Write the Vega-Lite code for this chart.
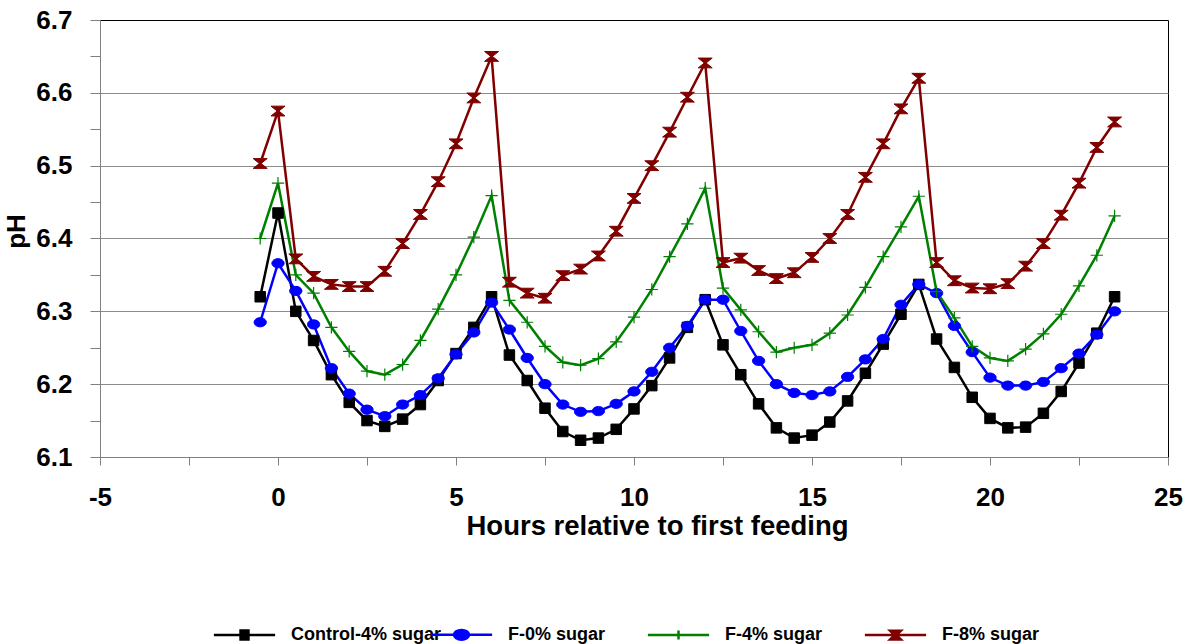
{
  "$schema": "https://vega.github.io/schema/vega-lite/v6.json",
  "width": 1068,
  "height": 437,
  "autosize": {"type": "none"},
  "padding": {"left": 100, "top": 20, "right": 21, "bottom": 187},
  "background": "#ffffff",
  "config": {
    "view": {"stroke": "#000000", "strokeWidth": 1},
    "font": "Liberation Sans"
  },
  "data": {"values": [
    {"hour": -0.5, "series": "Control-4% sugar", "pH": 6.32},
    {"hour": 0, "series": "Control-4% sugar", "pH": 6.435},
    {"hour": 0.5, "series": "Control-4% sugar", "pH": 6.3},
    {"hour": 1, "series": "Control-4% sugar", "pH": 6.26},
    {"hour": 1.5, "series": "Control-4% sugar", "pH": 6.213},
    {"hour": 2, "series": "Control-4% sugar", "pH": 6.175},
    {"hour": 2.5, "series": "Control-4% sugar", "pH": 6.15},
    {"hour": 3, "series": "Control-4% sugar", "pH": 6.142},
    {"hour": 3.5, "series": "Control-4% sugar", "pH": 6.152},
    {"hour": 4, "series": "Control-4% sugar", "pH": 6.172},
    {"hour": 4.5, "series": "Control-4% sugar", "pH": 6.205},
    {"hour": 5, "series": "Control-4% sugar", "pH": 6.242},
    {"hour": 5.5, "series": "Control-4% sugar", "pH": 6.278},
    {"hour": 6, "series": "Control-4% sugar", "pH": 6.32},
    {"hour": 6.5, "series": "Control-4% sugar", "pH": 6.24},
    {"hour": 7, "series": "Control-4% sugar", "pH": 6.205},
    {"hour": 7.5, "series": "Control-4% sugar", "pH": 6.167},
    {"hour": 8, "series": "Control-4% sugar", "pH": 6.135},
    {"hour": 8.5, "series": "Control-4% sugar", "pH": 6.123},
    {"hour": 9, "series": "Control-4% sugar", "pH": 6.126},
    {"hour": 9.5, "series": "Control-4% sugar", "pH": 6.138},
    {"hour": 10, "series": "Control-4% sugar", "pH": 6.166},
    {"hour": 10.5, "series": "Control-4% sugar", "pH": 6.198},
    {"hour": 11, "series": "Control-4% sugar", "pH": 6.236},
    {"hour": 11.5, "series": "Control-4% sugar", "pH": 6.278},
    {"hour": 12, "series": "Control-4% sugar", "pH": 6.316},
    {"hour": 12.5, "series": "Control-4% sugar", "pH": 6.254},
    {"hour": 13, "series": "Control-4% sugar", "pH": 6.213},
    {"hour": 13.5, "series": "Control-4% sugar", "pH": 6.173},
    {"hour": 14, "series": "Control-4% sugar", "pH": 6.14},
    {"hour": 14.5, "series": "Control-4% sugar", "pH": 6.126},
    {"hour": 15, "series": "Control-4% sugar", "pH": 6.13},
    {"hour": 15.5, "series": "Control-4% sugar", "pH": 6.148},
    {"hour": 16, "series": "Control-4% sugar", "pH": 6.177},
    {"hour": 16.5, "series": "Control-4% sugar", "pH": 6.215},
    {"hour": 17, "series": "Control-4% sugar", "pH": 6.255},
    {"hour": 17.5, "series": "Control-4% sugar", "pH": 6.296},
    {"hour": 18, "series": "Control-4% sugar", "pH": 6.337},
    {"hour": 18.5, "series": "Control-4% sugar", "pH": 6.262},
    {"hour": 19, "series": "Control-4% sugar", "pH": 6.223},
    {"hour": 19.5, "series": "Control-4% sugar", "pH": 6.182},
    {"hour": 20, "series": "Control-4% sugar", "pH": 6.153},
    {"hour": 20.5, "series": "Control-4% sugar", "pH": 6.14},
    {"hour": 21, "series": "Control-4% sugar", "pH": 6.141},
    {"hour": 21.5, "series": "Control-4% sugar", "pH": 6.16},
    {"hour": 22, "series": "Control-4% sugar", "pH": 6.19},
    {"hour": 22.5, "series": "Control-4% sugar", "pH": 6.229},
    {"hour": 23, "series": "Control-4% sugar", "pH": 6.27},
    {"hour": 23.5, "series": "Control-4% sugar", "pH": 6.32},
    {"hour": -0.5, "series": "F-0% sugar", "pH": 6.285},
    {"hour": 0, "series": "F-0% sugar", "pH": 6.366},
    {"hour": 0.5, "series": "F-0% sugar", "pH": 6.328},
    {"hour": 1, "series": "F-0% sugar", "pH": 6.282},
    {"hour": 1.5, "series": "F-0% sugar", "pH": 6.222},
    {"hour": 2, "series": "F-0% sugar", "pH": 6.187},
    {"hour": 2.5, "series": "F-0% sugar", "pH": 6.165},
    {"hour": 3, "series": "F-0% sugar", "pH": 6.156},
    {"hour": 3.5, "series": "F-0% sugar", "pH": 6.172},
    {"hour": 4, "series": "F-0% sugar", "pH": 6.185},
    {"hour": 4.5, "series": "F-0% sugar", "pH": 6.208},
    {"hour": 5, "series": "F-0% sugar", "pH": 6.241},
    {"hour": 5.5, "series": "F-0% sugar", "pH": 6.271},
    {"hour": 6, "series": "F-0% sugar", "pH": 6.312},
    {"hour": 6.5, "series": "F-0% sugar", "pH": 6.275},
    {"hour": 7, "series": "F-0% sugar", "pH": 6.236},
    {"hour": 7.5, "series": "F-0% sugar", "pH": 6.2},
    {"hour": 8, "series": "F-0% sugar", "pH": 6.172},
    {"hour": 8.5, "series": "F-0% sugar", "pH": 6.162},
    {"hour": 9, "series": "F-0% sugar", "pH": 6.163},
    {"hour": 9.5, "series": "F-0% sugar", "pH": 6.173},
    {"hour": 10, "series": "F-0% sugar", "pH": 6.19},
    {"hour": 10.5, "series": "F-0% sugar", "pH": 6.217},
    {"hour": 11, "series": "F-0% sugar", "pH": 6.25},
    {"hour": 11.5, "series": "F-0% sugar", "pH": 6.28},
    {"hour": 12, "series": "F-0% sugar", "pH": 6.316},
    {"hour": 12.5, "series": "F-0% sugar", "pH": 6.316},
    {"hour": 13, "series": "F-0% sugar", "pH": 6.273},
    {"hour": 13.5, "series": "F-0% sugar", "pH": 6.232},
    {"hour": 14, "series": "F-0% sugar", "pH": 6.2},
    {"hour": 14.5, "series": "F-0% sugar", "pH": 6.188},
    {"hour": 15, "series": "F-0% sugar", "pH": 6.185},
    {"hour": 15.5, "series": "F-0% sugar", "pH": 6.19},
    {"hour": 16, "series": "F-0% sugar", "pH": 6.21},
    {"hour": 16.5, "series": "F-0% sugar", "pH": 6.234},
    {"hour": 17, "series": "F-0% sugar", "pH": 6.262},
    {"hour": 17.5, "series": "F-0% sugar", "pH": 6.309},
    {"hour": 18, "series": "F-0% sugar", "pH": 6.337},
    {"hour": 18.5, "series": "F-0% sugar", "pH": 6.325},
    {"hour": 19, "series": "F-0% sugar", "pH": 6.28},
    {"hour": 19.5, "series": "F-0% sugar", "pH": 6.244},
    {"hour": 20, "series": "F-0% sugar", "pH": 6.209},
    {"hour": 20.5, "series": "F-0% sugar", "pH": 6.198},
    {"hour": 21, "series": "F-0% sugar", "pH": 6.198},
    {"hour": 21.5, "series": "F-0% sugar", "pH": 6.203},
    {"hour": 22, "series": "F-0% sugar", "pH": 6.222},
    {"hour": 22.5, "series": "F-0% sugar", "pH": 6.242},
    {"hour": 23, "series": "F-0% sugar", "pH": 6.268},
    {"hour": 23.5, "series": "F-0% sugar", "pH": 6.3},
    {"hour": -0.5, "series": "F-4% sugar", "pH": 6.4},
    {"hour": 0, "series": "F-4% sugar", "pH": 6.476},
    {"hour": 0.5, "series": "F-4% sugar", "pH": 6.35},
    {"hour": 1, "series": "F-4% sugar", "pH": 6.325},
    {"hour": 1.5, "series": "F-4% sugar", "pH": 6.278},
    {"hour": 2, "series": "F-4% sugar", "pH": 6.245},
    {"hour": 2.5, "series": "F-4% sugar", "pH": 6.218},
    {"hour": 3, "series": "F-4% sugar", "pH": 6.213},
    {"hour": 3.5, "series": "F-4% sugar", "pH": 6.227},
    {"hour": 4, "series": "F-4% sugar", "pH": 6.26},
    {"hour": 4.5, "series": "F-4% sugar", "pH": 6.303},
    {"hour": 5, "series": "F-4% sugar", "pH": 6.35},
    {"hour": 5.5, "series": "F-4% sugar", "pH": 6.402},
    {"hour": 6, "series": "F-4% sugar", "pH": 6.459},
    {"hour": 6.5, "series": "F-4% sugar", "pH": 6.315},
    {"hour": 7, "series": "F-4% sugar", "pH": 6.285},
    {"hour": 7.5, "series": "F-4% sugar", "pH": 6.252},
    {"hour": 8, "series": "F-4% sugar", "pH": 6.23},
    {"hour": 8.5, "series": "F-4% sugar", "pH": 6.226},
    {"hour": 9, "series": "F-4% sugar", "pH": 6.235},
    {"hour": 9.5, "series": "F-4% sugar", "pH": 6.258},
    {"hour": 10, "series": "F-4% sugar", "pH": 6.292},
    {"hour": 10.5, "series": "F-4% sugar", "pH": 6.33},
    {"hour": 11, "series": "F-4% sugar", "pH": 6.375},
    {"hour": 11.5, "series": "F-4% sugar", "pH": 6.42},
    {"hour": 12, "series": "F-4% sugar", "pH": 6.469},
    {"hour": 12.5, "series": "F-4% sugar", "pH": 6.332},
    {"hour": 13, "series": "F-4% sugar", "pH": 6.302},
    {"hour": 13.5, "series": "F-4% sugar", "pH": 6.272},
    {"hour": 14, "series": "F-4% sugar", "pH": 6.244},
    {"hour": 14.5, "series": "F-4% sugar", "pH": 6.25},
    {"hour": 15, "series": "F-4% sugar", "pH": 6.254},
    {"hour": 15.5, "series": "F-4% sugar", "pH": 6.27},
    {"hour": 16, "series": "F-4% sugar", "pH": 6.295},
    {"hour": 16.5, "series": "F-4% sugar", "pH": 6.333},
    {"hour": 17, "series": "F-4% sugar", "pH": 6.375},
    {"hour": 17.5, "series": "F-4% sugar", "pH": 6.416},
    {"hour": 18, "series": "F-4% sugar", "pH": 6.458},
    {"hour": 18.5, "series": "F-4% sugar", "pH": 6.327},
    {"hour": 19, "series": "F-4% sugar", "pH": 6.291},
    {"hour": 19.5, "series": "F-4% sugar", "pH": 6.252},
    {"hour": 20, "series": "F-4% sugar", "pH": 6.236},
    {"hour": 20.5, "series": "F-4% sugar", "pH": 6.232},
    {"hour": 21, "series": "F-4% sugar", "pH": 6.248},
    {"hour": 21.5, "series": "F-4% sugar", "pH": 6.269},
    {"hour": 22, "series": "F-4% sugar", "pH": 6.296},
    {"hour": 22.5, "series": "F-4% sugar", "pH": 6.335},
    {"hour": 23, "series": "F-4% sugar", "pH": 6.377},
    {"hour": 23.5, "series": "F-4% sugar", "pH": 6.431},
    {"hour": -0.5, "series": "F-8% sugar", "pH": 6.503},
    {"hour": 0, "series": "F-8% sugar", "pH": 6.575},
    {"hour": 0.5, "series": "F-8% sugar", "pH": 6.372},
    {"hour": 1, "series": "F-8% sugar", "pH": 6.348},
    {"hour": 1.5, "series": "F-8% sugar", "pH": 6.337},
    {"hour": 2, "series": "F-8% sugar", "pH": 6.334},
    {"hour": 2.5, "series": "F-8% sugar", "pH": 6.334},
    {"hour": 3, "series": "F-8% sugar", "pH": 6.355},
    {"hour": 3.5, "series": "F-8% sugar", "pH": 6.393},
    {"hour": 4, "series": "F-8% sugar", "pH": 6.433},
    {"hour": 4.5, "series": "F-8% sugar", "pH": 6.478},
    {"hour": 5, "series": "F-8% sugar", "pH": 6.53},
    {"hour": 5.5, "series": "F-8% sugar", "pH": 6.593},
    {"hour": 6, "series": "F-8% sugar", "pH": 6.65},
    {"hour": 6.5, "series": "F-8% sugar", "pH": 6.34},
    {"hour": 7, "series": "F-8% sugar", "pH": 6.325},
    {"hour": 7.5, "series": "F-8% sugar", "pH": 6.318},
    {"hour": 8, "series": "F-8% sugar", "pH": 6.349},
    {"hour": 8.5, "series": "F-8% sugar", "pH": 6.358},
    {"hour": 9, "series": "F-8% sugar", "pH": 6.376},
    {"hour": 9.5, "series": "F-8% sugar", "pH": 6.41},
    {"hour": 10, "series": "F-8% sugar", "pH": 6.455},
    {"hour": 10.5, "series": "F-8% sugar", "pH": 6.5},
    {"hour": 11, "series": "F-8% sugar", "pH": 6.546},
    {"hour": 11.5, "series": "F-8% sugar", "pH": 6.594},
    {"hour": 12, "series": "F-8% sugar", "pH": 6.641},
    {"hour": 12.5, "series": "F-8% sugar", "pH": 6.367},
    {"hour": 13, "series": "F-8% sugar", "pH": 6.373},
    {"hour": 13.5, "series": "F-8% sugar", "pH": 6.356},
    {"hour": 14, "series": "F-8% sugar", "pH": 6.345},
    {"hour": 14.5, "series": "F-8% sugar", "pH": 6.353},
    {"hour": 15, "series": "F-8% sugar", "pH": 6.374},
    {"hour": 15.5, "series": "F-8% sugar", "pH": 6.4},
    {"hour": 16, "series": "F-8% sugar", "pH": 6.433},
    {"hour": 16.5, "series": "F-8% sugar", "pH": 6.484},
    {"hour": 17, "series": "F-8% sugar", "pH": 6.53},
    {"hour": 17.5, "series": "F-8% sugar", "pH": 6.578},
    {"hour": 18, "series": "F-8% sugar", "pH": 6.62},
    {"hour": 18.5, "series": "F-8% sugar", "pH": 6.367},
    {"hour": 19, "series": "F-8% sugar", "pH": 6.342},
    {"hour": 19.5, "series": "F-8% sugar", "pH": 6.332},
    {"hour": 20, "series": "F-8% sugar", "pH": 6.331},
    {"hour": 20.5, "series": "F-8% sugar", "pH": 6.338},
    {"hour": 21, "series": "F-8% sugar", "pH": 6.362},
    {"hour": 21.5, "series": "F-8% sugar", "pH": 6.393},
    {"hour": 22, "series": "F-8% sugar", "pH": 6.432},
    {"hour": 22.5, "series": "F-8% sugar", "pH": 6.476},
    {"hour": 23, "series": "F-8% sugar", "pH": 6.525},
    {"hour": 23.5, "series": "F-8% sugar", "pH": 6.56}
  ]},
  "encoding": {
    "x": {
      "field": "hour", "type": "quantitative",
      "scale": {"domain": [-5, 25], "nice": false, "zero": false},
      "axis": {
        "title": "Hours relative to first feeding",
        "values": [-5, -2.5, 0, 2.5, 5, 7.5, 10, 12.5, 15, 17.5, 20, 22.5, 25],
        "labelExpr": "datum.value % 5 == 0 ? '' + datum.value : ''",
        "grid": false,
        "domainColor": "#808080",
        "tickColor": "#808080",
        "tickSize": 8,
        "labelPadding": 40,
        "labelBaseline": "alphabetic",
        "labelFont": "Liberation Sans",
        "labelFontSize": 26,
        "labelFontWeight": "bold",
        "labelColor": "#000000",
        "labelFlush": false,
        "labelOverlap": false,
        "titleFont": "Liberation Sans",
        "titleFontSize": 27.5,
        "titleFontWeight": "bold",
        "titleColor": "#000000",
        "titleX": 557,
        "titleY": 77,
        "titleBaseline": "alphabetic",
        "titleAlign": "center"
      }
    },
    "y": {
      "field": "pH", "type": "quantitative",
      "scale": {"domain": [6.1, 6.7], "nice": false, "zero": false},
      "axis": {
        "title": "pH",
        "values": [6.1, 6.15, 6.2, 6.25, 6.3, 6.35, 6.4, 6.45, 6.5, 6.55, 6.6, 6.65, 6.7],
        "labelExpr": "round(datum.value * 100) % 10 == 0 ? format(datum.value, '.1f') : ''",
        "grid": true,
        "gridColor": "#8c8c8c",
        "gridOpacity": {"condition": {"test": "round(datum.value * 100) % 10 == 0 && datum.value > 6.15 && datum.value < 6.65", "value": 1}, "value": 0},
        "domainColor": "#808080",
        "tickColor": "#808080",
        "tickSize": 10,
        "labelPadding": 18,
        "labelFont": "Liberation Sans",
        "labelFontSize": 26,
        "labelFontWeight": "bold",
        "labelColor": "#000000",
        "labelOverlap": false,
        "labelFlush": false,
        "titleFont": "Liberation Sans",
        "titleFontSize": 26,
        "titleFontWeight": "bold",
        "titleColor": "#000000",
        "titleX": -84,
        "titleY": 211,
        "titleAngle": -90,
        "titleBaseline": "middle",
        "titleAlign": "center"
      }
    }
  },
  "layer": [
    {
      "mark": {"type": "line", "clip": false},
      "encoding": {
        "color": {
          "field": "series", "type": "nominal",
          "scale": {"domain": ["Control-4% sugar", "F-0% sugar", "F-4% sugar", "F-8% sugar"], "range": ["#000000", "#0000ff", "#008000", "#800000"]},
          "legend": {
            "title": null,
            "orient": "none",
            "legendX": 125,
            "legendY": 595,
            "direction": "horizontal",
            "columns": 4,
            "gridAlign": "all",
            "columnPadding": -25.5,
            "symbolSize": 1296,
            "symbolStrokeWidth": 2,
            "labelOffset": 27,
            "labelFont": "Liberation Sans",
            "labelFontSize": 18,
            "labelFontWeight": "bold",
            "labelColor": "#000000",
            "labelLimit": 400,
            "encode": {
              "symbols": {
                "update": {
                  "shape": {"signal": "datum.value == 'Control-4% sugar' ? 'M-1.7,0H1.7M-0.22,-0.25H0.22V0.25H-0.22Z' : datum.value == 'F-0% sugar' ? 'M-0.42,0A0.42,0.27 0 1,0 0.42,0A0.42,0.27 0 1,0 -0.42,0ZM-1.7,0H1.7' : datum.value == 'F-4% sugar' ? 'M-1.7,0H1.7M0,-0.25V0.25' : 'M-1.7,0H1.7M-0.3,-0.24H0.3L0.05,0L0.3,0.24H-0.3L-0.05,0Z'"},
                  "fill": {"signal": "scale('color', datum.value)"},
                  "stroke": {"signal": "datum.value == 'F-4% sugar' ? '#6fb36f' : scale('color', datum.value)"},
                  "strokeWidth": {"signal": "datum.value == 'F-8% sugar' ? 2.5 : 2"},
                  "size": {"value": 1296},
                  "opacity": {"value": 1}
                }
              }
            }
          }
        },
        "strokeWidth": {
          "field": "series", "type": "nominal",
          "scale": {"domain": ["Control-4% sugar", "F-0% sugar", "F-4% sugar", "F-8% sugar"], "range": [2.5, 2.5, 1.2, 3]},
          "legend": null
        }
      }
    },
    {
      "transform": [{"filter": "datum.series == 'Control-4% sugar'"}],
      "mark": {"type": "point", "shape": "square", "filled": true, "fill": "#000000", "stroke": "#000000", "strokeWidth": 1, "size": 110, "opacity": 1}
    },
    {
      "transform": [{"filter": "datum.series == 'F-0% sugar'"}],
      "mark": {"type": "point", "shape": "M-1,0A1,0.75 0 1,0 1,0A1,0.75 0 1,0 -1,0Z", "filled": true, "fill": "#0000ff", "stroke": "#0000ff", "strokeWidth": 1, "size": 150, "opacity": 1}
    },
    {
      "transform": [{"filter": "datum.series == 'F-4% sugar'"}],
      "mark": {"type": "point", "shape": "M-1,0H1M0,-1V1", "filled": false, "stroke": "#008000", "strokeWidth": 1.2, "size": 150, "opacity": 1}
    },
    {
      "transform": [{"filter": "datum.series == 'F-8% sugar'"}],
      "mark": {"type": "point", "shape": "M-1,-0.7H1L0.12,0L1,0.7H-1L-0.12,0Z", "filled": true, "fill": "#800000", "stroke": "#800000", "strokeWidth": 1, "size": 196, "opacity": 1}
    }
  ]
}
